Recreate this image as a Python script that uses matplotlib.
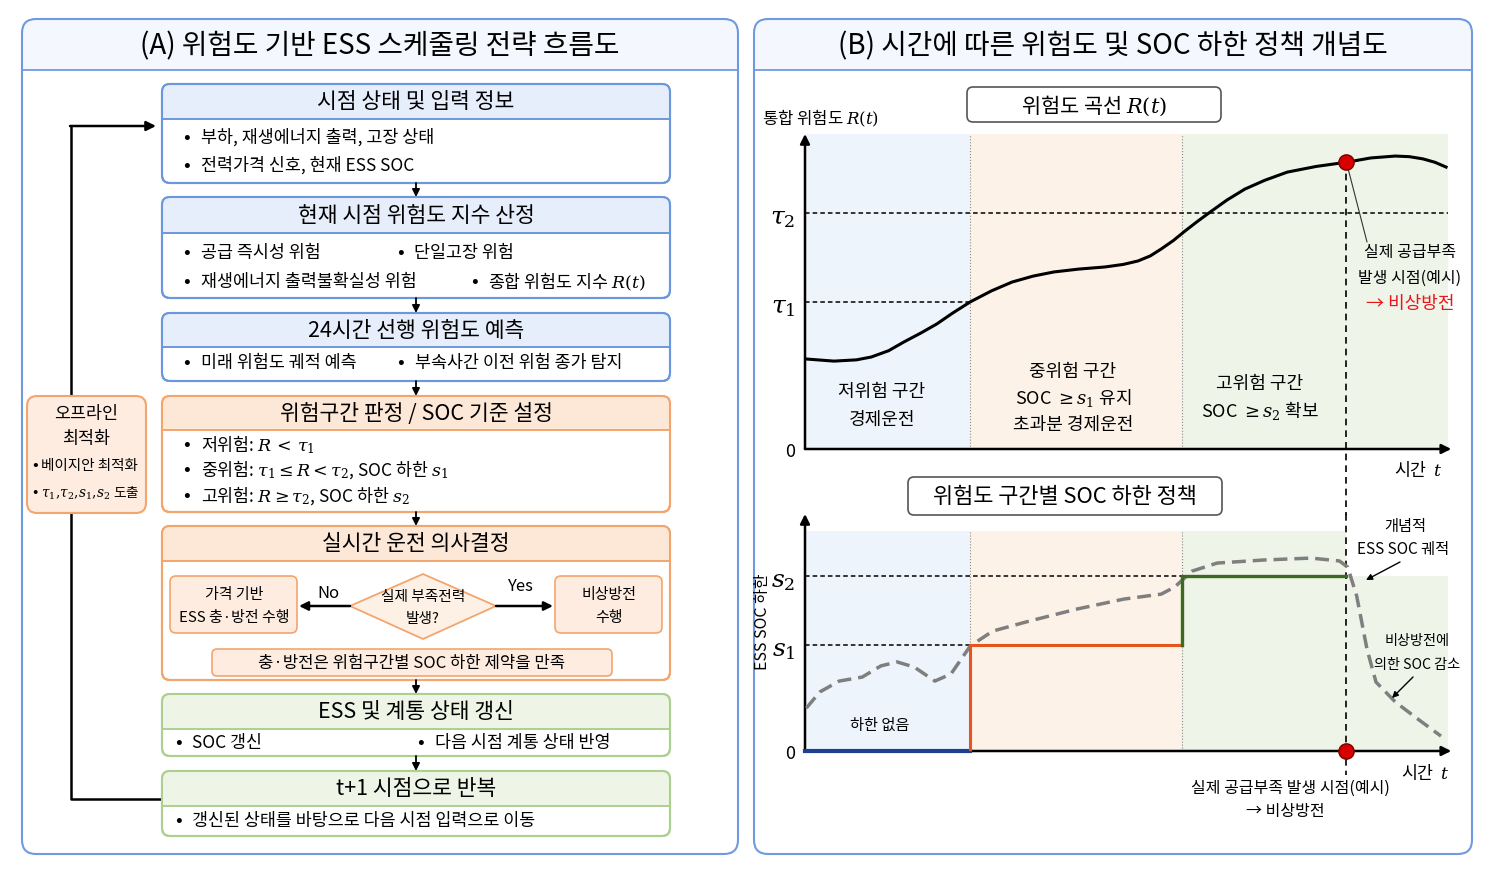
import matplotlib.pyplot as plt
from matplotlib.patches import FancyBboxPatch, Rectangle, Polygon

plt.rcParams['font.family'] = ['Noto Sans CJK KR', 'DejaVu Sans']
plt.rcParams['mathtext.fontset'] = 'dejavuserif'
plt.rcParams['axes.unicode_minus'] = False

# ---- 데이터 (시간 0~100, 위험도/SOC 0~1 정규화) ----
t_risk = [0, 4.5, 8, 10.3, 13, 15.4, 18, 20.5, 23, 25.7, 29, 32.2, 35.5, 38.7,
          42.5, 46.7, 49.5, 51.8, 53.7, 55.4, 57.3, 59.1, 61, 63.0, 65.6, 68.4,
          71.5, 75.0, 79.5, 84.4, 88, 91.8, 94, 96.1, 98, 99.7]
r_risk = [0.286, 0.279, 0.283, 0.292, 0.312, 0.340, 0.368, 0.397, 0.432, 0.467,
          0.502, 0.530, 0.549, 0.562, 0.571, 0.578, 0.586, 0.597, 0.613, 0.635,
          0.662, 0.692, 0.722, 0.752, 0.790, 0.825, 0.853, 0.879, 0.897, 0.911,
          0.924, 0.930, 0.928, 0.921, 0.910, 0.895]

t_soc = [0.2, 2.3, 5.3, 8.9, 11.8, 14.3, 17.0, 20.2, 22.7, 25.7, 29.2, 35.0,
         42.3, 49.6, 55.4, 57.5, 60.2, 64.1, 71.4, 78.7, 83.1, 84.4, 85.8,
         87.4, 88.8, 91.8, 95.3, 98.9]
soc = [0.181, 0.249, 0.295, 0.312, 0.359, 0.376, 0.354, 0.295, 0.325, 0.443,
       0.506, 0.549, 0.599, 0.641, 0.662, 0.692, 0.759, 0.793, 0.806, 0.814,
       0.802, 0.776, 0.654, 0.430, 0.291, 0.207, 0.135, 0.063]

tau1, tau2 = 0.467, 0.750
s1, s2 = 0.447, 0.738
b_low, b_high = 25.6, 58.6      # 저/중, 중/고 위험 경계 시점
t_event = 84.2                  # 실제 공급부족 발생 시점
r_event = 0.911

BLUE_E, BLUE_H = '#6b98dd', '#e6eefb'
ORG_E, ORG_H, ORG_F = '#f3a56e', '#fde8d8', '#fdecdf'
GRN_E, GRN_H = '#abd090', '#eef5e6'
SH_B, SH_O, SH_G = '#eef4fc', '#fdf2e8', '#eff4e9'

W, H = 1493, 887
fig = plt.figure(figsize=(14.93, 8.87), dpi=100)


def frac(x0, y0, x1, y1):
    return [x0 / W, 1 - y1 / H, (x1 - x0) / W, (y1 - y0) / H]


ax1 = fig.add_axes(frac(805, 135, 1448, 450), zorder=1)
ax2 = fig.add_axes(frac(805, 515, 1448, 752), zorder=1)
bg = fig.add_axes([0, 0, 1, 1], zorder=2)
bg.set_xlim(0, W)
bg.set_ylim(H, 0)
bg.axis('off')


def rbox(x0, y0, x1, y1, ec, fc='white', lw=1.5, r=8, z=2):
    p = FancyBboxPatch((x0, y0), x1 - x0, y1 - y0,
                       boxstyle=f"round,pad=0,rounding_size={r}",
                       fc=fc, ec=ec, lw=lw, zorder=z)
    bg.add_patch(p)
    return p


def section(x0, y0, x1, y1, hh, ec, hc, title, size=15.5, r=8):
    p = rbox(x0, y0, x1, y1, ec, fc='white', r=r, z=2)
    head = Rectangle((x0, y0), x1 - x0, hh, fc=hc, ec='none', zorder=2.5)
    bg.add_patch(head)
    head.set_clip_path(p)
    bg.plot([x0, x1], [y0 + hh] * 2, color=ec, lw=1.4, zorder=3)
    rbox(x0, y0, x1, y1, ec, fc='none', r=r, z=3)
    bg.text((x0 + x1) / 2, y0 + hh / 2, title, ha='center', va='center',
            fontsize=size, zorder=4)


def bullet(x, y, s, size=12.5, gap=14):
    bg.text(x, y, '•', ha='center', va='center', fontsize=size * 1.15, zorder=4)
    bg.text(x + gap, y, s, ha='left', va='center', fontsize=size, zorder=4)


def down(y0, y1, x=416):
    bg.annotate('', xy=(x, y1), xytext=(x, y0),
                arrowprops=dict(arrowstyle='-|>', color='k', lw=1.3,
                                mutation_scale=11, shrinkA=0, shrinkB=0),
                zorder=4)


# ---- 패널 외곽 ----
for (x0, x1, title) in [(22, 738, '(A) 위험도 기반 ESS 스케줄링 전략 흐름도'),
                        (754, 1472, '(B) 시간에 따른 위험도 및 SOC 하한 정책 개념도')]:
    outer = rbox(x0, 20, x1, 855, '#6f9ae0', fc='none', lw=1.5, r=14, z=1)
    band = Rectangle((x0, 20), x1 - x0, 51, fc='#f4f7fd', ec='none', zorder=0.5)
    bg.add_patch(band)
    band.set_clip_path(outer)
    bg.plot([x0, x1], [71, 71], color='#6f9ae0', lw=1.3, zorder=1)
    bg.text((x0 + x1) / 2, 46, title, ha='center', va='center', fontsize=20)

# ---- (A) 흐름도 ----
L, R = 162, 670
section(L, 85, R, 184, 35, BLUE_E, BLUE_H, '시점 상태 및 입력 정보')
bullet(187, 137, '부하, 재생에너지 출력, 고장 상태')
bullet(187, 165, '전력가격 신호, 현재 ESS SOC')
down(184, 198)

section(L, 198, R, 299, 36, BLUE_E, BLUE_H, '현재 시점 위험도 지수 산정')
bullet(187, 253, '공급 즉시성 위험')
bullet(400, 253, '단일고장 위험')
bullet(187, 282, '재생에너지 출력불확실성 위험')
bullet(474, 282, r'종합 위험도 지수 $R(t)$')
down(299, 314)

section(L, 314, R, 382, 34, BLUE_E, BLUE_H, '24시간 선행 위험도 예측')
bullet(187, 363, '미래 위험도 궤적 예측')
bullet(401, 363, '부속사간 이전 위험 종가 탐지')
down(382, 397)

section(L, 397, R, 513, 34, ORG_E, ORG_H, '위험구간 판정 / SOC 기준 설정')
bullet(187, 445, r'저위험: $R\,<\,\tau_1$')
bullet(187, 470, r'중위험: $\tau_1 \leq R < \tau_2$, SOC 하한 $s_1$')
bullet(187, 496, r'고위험: $R \geq \tau_2$, SOC 하한 $s_2$')
down(513, 527)

section(L, 527, R, 681, 35, ORG_E, ORG_H, '실시간 운전 의사결정')
rbox(170, 577, 297, 634, ORG_E, fc=ORG_F, lw=1.2, r=6, z=3)
bg.text(234, 595, '가격 기반', ha='center', va='center', fontsize=10.8, zorder=4)
bg.text(234, 618, 'ESS 충·방전 수행', ha='center', va='center', fontsize=10.8, zorder=4)
rbox(555, 577, 662, 634, ORG_E, fc=ORG_F, lw=1.2, r=6, z=3)
bg.text(609, 595, '비상방전', ha='center', va='center', fontsize=10.8, zorder=4)
bg.text(609, 618, '수행', ha='center', va='center', fontsize=10.8, zorder=4)
bg.add_patch(Polygon([(350, 607), (423, 575), (496, 607), (423, 640)],
                     closed=True, fc='#fdf1e6', ec=ORG_E, lw=1.3, zorder=3))
bg.text(423, 597, '실제 부족전력', ha='center', va='center', fontsize=10.6, zorder=4)
bg.text(423, 619, '발생?', ha='center', va='center', fontsize=10.6, zorder=4)
for xs, xe in [(350, 299), (496, 553)]:
    bg.annotate('', xy=(xe, 607), xytext=(xs, 607),
                arrowprops=dict(arrowstyle='-|>', color='k', lw=1.8,
                                mutation_scale=13, shrinkA=0, shrinkB=0), zorder=4)
bg.text(328, 594, 'No', ha='center', va='center', fontsize=12, zorder=4)
bg.text(520, 587, 'Yes', ha='center', va='center', fontsize=12, zorder=4)
rbox(212, 650, 612, 677, ORG_E, fc=ORG_F, lw=1.2, r=5, z=3)
bg.text(412, 664, '충·방전은 위험구간별 SOC 하한 제약을 만족', ha='center',
        va='center', fontsize=12, zorder=4)
down(681, 695)

section(L, 695, R, 757, 35, GRN_E, GRN_H, 'ESS 및 계통 상태 갱신')
bullet(178, 743, 'SOC 갱신')
bullet(421, 743, '다음 시점 계통 상태 반영')
down(757, 772)

section(L, 772, R, 837, 35, GRN_E, GRN_H, 't+1 시점으로 반복')
bullet(178, 821, '갱신된 상태를 바탕으로 다음 시점 입력으로 이동')

# 피드백 루프
bg.plot([L, 71, 71], [800, 800, 127], color='k', lw=1.8, zorder=1.5)
bg.annotate('', xy=(156, 127), xytext=(70, 127),
            arrowprops=dict(arrowstyle='-|>', color='k', lw=1.8,
                            mutation_scale=14, shrinkA=0, shrinkB=0), zorder=2)

# 오프라인 최적화
rbox(27, 397, 146, 514, ORG_E, fc=ORG_F, lw=1.5, r=10, z=3)
bg.text(86, 414, '오프라인', ha='center', va='center', fontsize=12.5, zorder=4)
bg.text(86, 439, '최적화', ha='center', va='center', fontsize=12.5, zorder=4)
bullet(35, 466, '베이지안 최적화', size=10.5, gap=6)
bullet(35, 493, r'$\tau_1,\!\tau_2,\!s_1,\!s_2$ 도출', size=9.8, gap=6)

# ---- (B) 위 : 위험도 곡선 ----
for ax in (ax1, ax2):
    ax.set_xlim(0, 100)
    ax.set_ylim(0, 1)
    ax.set_facecolor('none')
    for sp in ax.spines.values():
        sp.set_visible(False)
    ax.set_xticks([])
    ax.tick_params(axis='y', length=0, pad=7)
    ax.annotate('', xy=(0, 1.0), xytext=(0, 0), xycoords='axes fraction',
                arrowprops=dict(arrowstyle='-|>', color='k', lw=1.8,
                                mutation_scale=14, shrinkA=0, shrinkB=0))
    ax.annotate('', xy=(1.005, 0), xytext=(0, 0), xycoords='axes fraction',
                arrowprops=dict(arrowstyle='-|>', color='k', lw=1.8,
                                mutation_scale=14, shrinkA=0, shrinkB=0))

ax1.axvspan(0, b_low, color=SH_B, lw=0, zorder=0)
ax1.axvspan(b_low, b_high, color=SH_O, lw=0, zorder=0)
ax1.axvspan(b_high, 100.5, color=SH_G, lw=0, zorder=0)
for b in (b_low, b_high):
    ax1.axvline(b, color='#8a8a8a', ls=':', lw=0.8, zorder=1)
ax1.plot([0, 100], [tau2, tau2], color='k', ls=(0, (3, 2)), lw=1.1, zorder=2)
ax1.plot([0, b_low], [tau1, tau1], color='k', ls=(0, (3, 2)), lw=1.1, zorder=2)
ax1.plot(t_risk, r_risk, color='k', lw=2.2, zorder=3)
ax1.plot([t_event, t_event], [r_event, -0.21], color='k', ls=(0, (4, 3)),
         lw=1.2, clip_on=False, zorder=2)
ax1.plot([t_event], [r_event], 'o', ms=11, mfc='#d70000', mec='#7a0000',
         mew=1, zorder=5, clip_on=False)
ax1.set_yticks([0, tau1, tau2])
ax1.set_yticklabels(['0', r'$\tau_1$', r'$\tau_2$'])
for lab, fs in zip(ax1.get_yticklabels(), [13, 18, 18]):
    lab.set_fontsize(fs)
ax1.annotate('', xy=(t_event, r_event), xytext=(1367, 243),
             textcoords=bg.transData,
             arrowprops=dict(arrowstyle='-', color='#333333', lw=0.8,
                             shrinkA=0, shrinkB=4))

rbox(967, 88, 1221, 123, '#555555', fc='white', lw=1.2, r=6, z=2)
bg.text(1094, 106, r'위험도 곡선 $R(t)$', ha='center', va='center', fontsize=15)
bg.text(762, 118, r'통합 위험도 $R(t)$', ha='left', va='center', fontsize=12)
for (x, y, s) in [(882, 392, '저위험 구간'), (882, 420, '경제운전'),
                  (1073, 372, '중위험 구간'), (1073, 398, r'SOC $\geq s_1$ 유지'),
                  (1073, 425, '초과분 경제운전'),
                  (1260, 384, '고위험 구간'), (1260, 411, r'SOC $\geq s_2$ 확보')]:
    bg.text(x, y, s, ha='center', va='center', fontsize=13)
bg.text(1418, 470, r'시간  $t$', ha='center', va='center', fontsize=12.5)
bg.text(1410, 253, '실제 공급부족', ha='center', va='center', fontsize=11.5)
bg.text(1410, 278, '발생 시점(예시)', ha='center', va='center', fontsize=11.5)
bg.text(1410, 304, '→ 비상방전', ha='center', va='center', fontsize=13,
        color='#e8161b')

# ---- (B) 아래 : SOC 하한 정책 ----
ax2.axvspan(0, b_low, ymax=0.928, color=SH_B, lw=0, zorder=0)
ax2.axvspan(b_low, b_high, ymax=0.928, color=SH_O, lw=0, zorder=0)
ax2.axvspan(b_high, t_event, ymax=0.928, color=SH_G, lw=0, zorder=0)
ax2.axvspan(t_event, 100.5, ymax=s2, color=SH_G, lw=0, zorder=0)
for b in (b_low, b_high):
    ax2.plot([b, b], [0, 0.928], color='#8a8a8a', ls=':', lw=0.8, zorder=1)
ax2.plot([0, b_high], [s2, s2], color='k', ls=(0, (3, 2)), lw=1.1, zorder=2)
ax2.plot([0, b_low], [s1, s1], color='k', ls=(0, (3, 2)), lw=1.1, zorder=2)
ax2.plot([0, b_low], [0, 0], color='#1f3f8f', lw=3, zorder=4, clip_on=False)
ax2.plot([b_low, b_low, b_high], [0, s1, s1], color='#e8541e', lw=2.2, zorder=4)
ax2.plot([b_high, b_high, t_event], [s1, s2, s2], color='#3b6b1f', lw=2.4, zorder=4)
ax2.plot(t_soc, soc, color='#7f7f7f', lw=2.5, ls=(0, (4, 2)), zorder=3)
ax2.plot([t_event, t_event], [1.0, -0.1], color='k', ls=(0, (4, 3)),
         lw=1.2, clip_on=False, zorder=2)
ax2.plot([t_event], [0], 'o', ms=11, mfc='#d70000', mec='#7a0000',
         mew=1, zorder=6, clip_on=False)
ax2.set_yticks([0, s1, s2])
ax2.set_yticklabels(['0', r'$s_1$', r'$s_2$'])
for lab, fs in zip(ax2.get_yticklabels(), [13, 18, 18]):
    lab.set_fontsize(fs)

rbox(908, 478, 1222, 516, '#555555', fc='white', lw=1.2, r=6, z=2)
bg.text(1065, 497, '위험도 구간별 SOC 하한 정책', ha='center', va='center',
        fontsize=15.8)
bg.text(762, 622, 'ESS SOC 하한', ha='center', va='center', fontsize=11.5,
        rotation=90)
bg.text(880, 725, '하한 없음', ha='center', va='center', fontsize=11)
bg.text(1425, 773, r'시간  $t$', ha='center', va='center', fontsize=12.5)
bg.text(1290, 788, '실제 공급부족 발생 시점(예시)', ha='center', va='center',
        fontsize=11.5)
bg.text(1285, 812, '→ 비상방전', ha='center', va='center', fontsize=11.5)
bg.text(1405, 527, '개념적', ha='center', va='center', fontsize=11)
bg.text(1403, 550, 'ESS SOC 궤적', ha='center', va='center', fontsize=11)
bg.text(1417, 641, '비상방전에', ha='center', va='center', fontsize=10.2)
bg.text(1417, 665, '의한 SOC 감소', ha='center', va='center', fontsize=10.2)
for (xs, ys, xe, ye) in [(1400, 563, 1366, 581), (1413, 678, 1392, 699)]:
    bg.annotate('', xy=(xe, ye), xytext=(xs, ys),
                arrowprops=dict(arrowstyle='-|>', color='k', lw=1,
                                mutation_scale=9, shrinkA=0, shrinkB=0))

fig.savefig('out.png', dpi=100, facecolor='white')
